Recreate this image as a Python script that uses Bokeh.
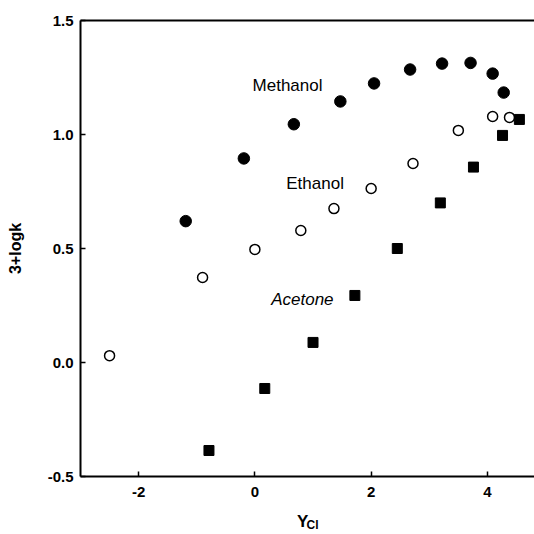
from bokeh.plotting import figure
from bokeh.models import FixedTicker, LinearAxis, Label, Range1d
from bokeh.embed import file_html
from bokeh.resources import INLINE

# Data
methanol_x = [-1.19, -0.19, 0.67, 1.47, 2.05, 2.67, 3.22, 3.71, 4.09, 4.28]
methanol_y = [0.62, 0.895, 1.045, 1.145, 1.224, 1.285, 1.311, 1.314, 1.267, 1.184]

ethanol_x = [-2.5, -0.9, 0.0, 0.79, 1.36, 2.0, 2.72, 3.5, 4.09, 4.38]
ethanol_y = [0.03, 0.373, 0.496, 0.579, 0.675, 0.763, 0.873, 1.018, 1.079, 1.075]

acetone_x = [-0.79, 0.17, 1.0, 1.72, 2.45, 3.19, 3.76, 4.26, 4.55]
acetone_y = [-0.386, -0.114, 0.088, 0.294, 0.50, 0.70, 0.857, 0.996, 1.066]

x_ticks = [-2, 0, 2, 4]
x_tick_labels = ["-2", "0", "2", "4"]
y_ticks = [-0.5, 0.0, 0.5, 1.0, 1.5]
y_tick_labels = ["-0.5", "0.0", "0.5", "1.0", "1.5"]

series_labels = ["Methanol", "Ethanol", "Acetone"]
series_label_x = [-0.04, 0.54, 0.28]
series_label_y = [1.213, 0.785, 0.276]
series_label_style = ["normal", "normal", "italic"]

x_title = "Y"
x_title_sub = "Cl"
y_title = "3+logk"

FONT = "Liberation Sans"

p = figure(width=534, height=534, output_backend="svg", toolbar_location=None,
           x_range=Range1d(-3.0, 4.81), y_range=Range1d(-0.5, 1.5),
           min_border_left=80, min_border_right=0, min_border_top=20,
           min_border_bottom=58)
p.background_fill_color = "white"
p.border_fill_color = "white"
p.outline_line_color = None
p.grid.visible = False

for ax in [p.xaxis[0], p.yaxis[0]]:
    ax.axis_line_width = 2
    ax.axis_line_color = "black"
    ax.major_tick_in = 5
    ax.major_tick_out = 0
    ax.major_tick_line_width = 1.5
    ax.minor_tick_line_color = None
    ax.major_label_text_font = FONT
    ax.major_label_text_font_size = "15px"
    ax.major_label_text_font_style = "bold"
    ax.major_label_text_color = "black"
    ax.axis_label_text_font = FONT
    ax.axis_label_text_color = "black"
    ax.axis_label_text_font_style = "bold"

p.xaxis.ticker = FixedTicker(ticks=x_ticks)
p.xaxis.major_label_overrides = {t: l for t, l in zip(x_ticks, x_tick_labels)}
p.xaxis.major_label_standoff = 10
p.xaxis.axis_label = x_title + "\u00a0" * 2
p.xaxis.axis_label_text_font_size = "17px"
p.xaxis.axis_label_standoff = 12

p.yaxis.ticker = FixedTicker(ticks=y_ticks)
p.yaxis.major_label_overrides = {t: l for t, l in zip(y_ticks, y_tick_labels)}
p.yaxis.major_label_standoff = 7
p.yaxis.axis_label = y_title
p.yaxis.axis_label_text_font_size = "16px"
p.yaxis.axis_label_standoff = 21

# subscript of the x title, via a bare second bottom axis
sub_axis = LinearAxis(axis_line_color=None, major_tick_line_color=None,
                      minor_tick_line_color=None, major_label_text_font_size="0px",
                      major_label_standoff=0, major_tick_in=0, major_tick_out=0,
                      ticker=FixedTicker(ticks=[]),
                      axis_label="\u00a0" * 3 + x_title_sub,
                      axis_label_text_font=FONT, axis_label_text_font_size="12px",
                      axis_label_text_font_style="bold", axis_label_text_color="black",
                      axis_label_standoff=-16)
p.add_layout(sub_axis, "below")

top = LinearAxis(axis_line_width=2, axis_line_color="black",
                 major_tick_line_color=None, minor_tick_line_color=None,
                 major_label_text_font_size="0px", ticker=FixedTicker(ticks=[]))
p.add_layout(top, "above")

p.scatter(methanol_x, methanol_y, marker="circle", size=11.5,
          fill_color="black", line_color="black")
p.scatter(ethanol_x, ethanol_y, marker="circle", size=10,
          fill_color="white", line_color="black", line_width=1.5)
p.scatter(acetone_x, acetone_y, marker="square", size=10,
          fill_color="black", line_color="black")

for t, lx, ly, st in zip(series_labels, series_label_x, series_label_y, series_label_style):
    p.add_layout(Label(x=lx, y=ly, text=t, text_font=FONT, text_font_size="17px",
                       text_font_style=st, text_baseline="middle", text_align="left",
                       text_color="black"))

open("out.html", "w").write(file_html(p, INLINE))
